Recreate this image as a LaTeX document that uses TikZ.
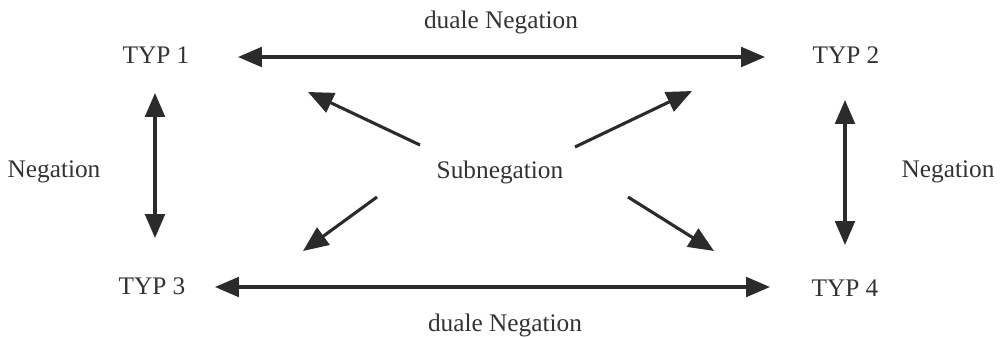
\documentclass[tikz,border=0pt]{standalone}
\usepackage{fontspec}
\setmainfont{Liberation Serif}
\usetikzlibrary{arrows.meta}
\definecolor{ink}{HTML}{2B2B2B}
\definecolor{txt}{HTML}{333333}
\begin{document}
\begin{tikzpicture}[x=0.025cm,y=-0.025cm,
  lbl/.style={text=txt,font=\fontsize{18}{20}\selectfont,inner sep=0pt},
  dbl/.style={draw=ink,line width=2.2pt,{Triangle[length=17pt,width=14pt]}-{Triangle[length=17pt,width=14pt]}},
  sgl/.style={draw=ink,line width=2.2pt,-{Triangle[length=18pt,width=15pt]}}]
\useasboundingbox[fill=white] (0,0) rectangle (1002,337);
% labels
\node[lbl] (t1) at (156,55) {TYP 1};
\node[lbl] (t2) at (846,55) {TYP 2};
\node[lbl] (t3) at (152,286) {TYP 3};
\node[lbl] (t4) at (845,288) {TYP 4};
\node[lbl] (dtop) at (501,22) {duale Negation};
\node[lbl] (dbot) at (505,325) {duale Negation};
\node[lbl] (nl) at (54,172) {Negation};
\node[lbl] (nr) at (948,172) {Negation};
\node[lbl] (sub) at (500,172) {Subnegation};
% end points
\coordinate (a1) at (238,57);
\coordinate (a2) at (765,57);
\coordinate (b1) at (215,287);
\coordinate (b2) at (770,287);
\coordinate (l1) at (155,93);
\coordinate (l2) at (155,238);
\coordinate (r1) at (845,100);
\coordinate (r2) at (845,245);
\coordinate (nwt) at (420,145);
\coordinate (nwh) at (308,92);
\coordinate (net) at (575,147);
\coordinate (neh) at (692,91);
\coordinate (swt) at (377,197);
\coordinate (swh) at (303,251);
\coordinate (set) at (628,197);
\coordinate (seh) at (714,251);
% arrows
\draw[dbl] (a1) -- (a2);
\draw[dbl] (b1) -- (b2);
\draw[dbl] (l1) -- (l2);
\draw[dbl] (r1) -- (r2);
\draw[sgl] (nwt) -- (nwh);
\draw[sgl] (net) -- (neh);
\draw[sgl] (swt) -- (swh);
\draw[sgl] (set) -- (seh);
\end{tikzpicture}
\end{document}
